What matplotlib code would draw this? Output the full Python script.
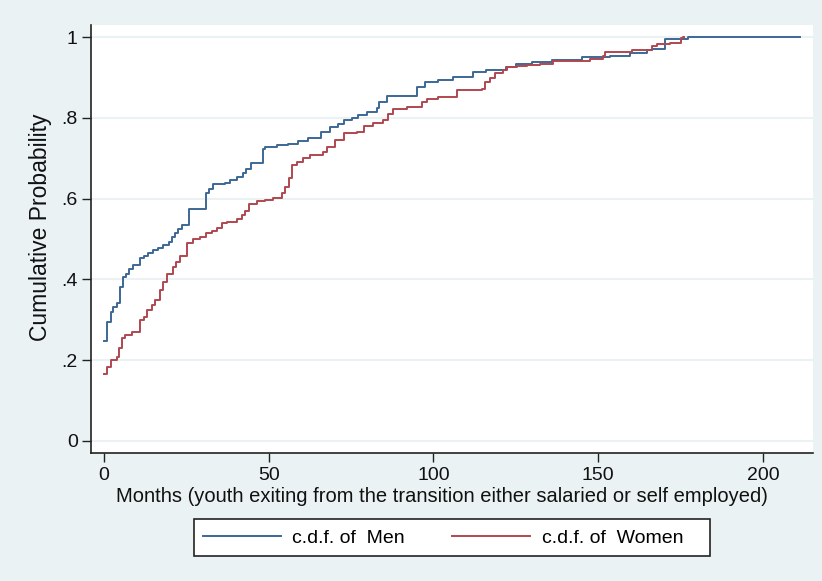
import numpy as np
import matplotlib
matplotlib.use("Agg")
import matplotlib.pyplot as plt
from matplotlib.patches import Rectangle

plt.rcParams['font.family'] = ['Liberation Sans', 'DejaVu Sans']

# cdf of exit months
men_months = [0, 1, 2, 2.8, 3.85, 4.9, 5.9, 6.7, 7.7, 8.9, 10.9, 12.1, 13.5, 15, 16.5,
              18, 19.7, 20.5, 21.5, 22.4, 23.6, 25.9, 31, 32, 33.2, 36.7, 38.3, 40.3,
              42.3, 43, 44.5, 48.4, 49, 52.4, 55.9, 59, 62, 66, 68.6, 71, 72.7, 75.2,
              77.2, 79.7, 82.8, 83.5, 85.8, 94.9, 97.4, 101.5, 106, 112, 116, 122, 125,
              130, 136, 145, 153.6, 159.6, 164.7, 166.3, 170.3, 177.4, 211.3]
men_cdf = [0.247, 0.295, 0.320, 0.332, 0.342, 0.380, 0.407, 0.413, 0.426, 0.436, 0.452,
           0.458, 0.466, 0.473, 0.478, 0.485, 0.493, 0.504, 0.516, 0.526, 0.535, 0.574,
           0.615, 0.623, 0.636, 0.640, 0.646, 0.653, 0.664, 0.673, 0.689, 0.722, 0.728,
           0.732, 0.735, 0.744, 0.750, 0.766, 0.777, 0.785, 0.795, 0.801, 0.807, 0.816,
           0.824, 0.840, 0.854, 0.878, 0.888, 0.893, 0.902, 0.915, 0.920, 0.927, 0.934,
           0.939, 0.944, 0.950, 0.954, 0.962, 0.968, 0.972, 0.996, 1.0, 1.0]

women_months = [0, 1, 2, 3.85, 4.5, 5.4, 6.4, 8.4, 10.9, 12, 13.2, 14.5, 15.5, 17, 18,
                19, 20.8, 21.9, 23.1, 25.1, 27.1, 29.1, 31, 32.7, 34.2, 35.7, 37.2,
                40.3, 41.8, 42.8, 44.1, 46.3, 48.9, 51.4, 53.9, 54.9, 56.3, 57, 58.5,
                60.5, 62.5, 66.6, 67.6, 70.1, 72.7, 76.7, 78.9, 81.8, 84.8, 86.3, 87.8,
                91.9, 96.4, 98, 101.5, 107.1, 114.7, 115.6, 117.2, 118.7, 121.2, 122.2,
                125.3, 128.3, 132.4, 136.4, 143.5, 147.5, 151.5, 152.1, 160.2, 166.3,
                167.8, 171.8, 175, 175.7, 176.2]
women_cdf = [0.165, 0.183, 0.199, 0.207, 0.229, 0.254, 0.262, 0.270, 0.299, 0.307, 0.324,
             0.336, 0.350, 0.373, 0.394, 0.413, 0.431, 0.444, 0.458, 0.491, 0.499, 0.504,
             0.514, 0.521, 0.528, 0.539, 0.543, 0.549, 0.560, 0.570, 0.586, 0.593, 0.597,
             0.601, 0.613, 0.630, 0.650, 0.683, 0.692, 0.700, 0.708, 0.716, 0.728, 0.745,
             0.762, 0.766, 0.779, 0.787, 0.795, 0.810, 0.821, 0.826, 0.840, 0.846, 0.853,
             0.869, 0.873, 0.888, 0.899, 0.911, 0.919, 0.927, 0.928, 0.931, 0.935, 0.940,
             0.942, 0.945, 0.954, 0.964, 0.968, 0.979, 0.983, 0.987, 0.997, 1.0, 1.0]

y_ticks = [0, 0.2, 0.4, 0.6, 0.8, 1]
y_labels = ['0', '.2', '.4', '.6', '.8', '1']
x_ticks = [0, 50, 100, 150, 200]

bg = '#EAF2F3'
fig = plt.figure(figsize=(8.22, 5.81), dpi=100, facecolor=bg)
ax = fig.add_axes([0.1107, 0.2203, 0.8783, 0.7367])
ax.set_facecolor('white')

ax.step(men_months, men_cdf, where='post', color='#3D6896', lw=1.4, label='c.d.f. of  Men')
ax.step(women_months, women_cdf, where='post', color='#B04850', lw=1.4, label='c.d.f. of  Women')

ax.set_xlim(-3.95, 215.2)
ax.set_ylim(-0.0305, 1.0305)
ax.set_yticks(y_ticks)
ax.set_yticklabels(y_labels)
ax.set_xticks(x_ticks)
ax.grid(axis='y', color=bg, lw=1.5)
ax.set_axisbelow(True)

for s in ['top', 'right']:
    ax.spines[s].set_visible(False)
for s in ['left', 'bottom']:
    ax.spines[s].set_color('#222222')
    ax.spines[s].set_linewidth(1.2)

ax.tick_params(axis='both', direction='out', length=6.5, width=1.0, color='#222222',
               labelsize=14, labelcolor='#111111')
ax.tick_params(axis='y', pad=3)
ax.tick_params(axis='x', pad=3.5)

fig.text(442 / 822, 1 - 497 / 581,
         'Months (youth exiting from the transition either salaried or self employed)',
         ha='center', va='center', fontsize=14.5, color='#111111')
fig.text(40 / 822, 1 - 227 / 581, 'Cumulative Probability', rotation=90,
         ha='center', va='center', fontsize=16.5, color='#111111')

# legend box drawn separately so the entries can sit left of the right edge
box = Rectangle((194 / 822, 1 - 556 / 581), 516 / 822, 37 / 581, transform=fig.transFigure,
                facecolor='white', edgecolor='#222222', lw=1.2)
fig.patches.append(box)
leg = fig.legend(loc='lower left', bbox_to_anchor=(194 / 822, 1 - 556 / 581, 498 / 822, 37 / 581),
                 mode='expand', ncol=2, fontsize=14, frameon=False,
                 handlelength=4.0, handletextpad=0.6, borderpad=0.45, borderaxespad=0)
for line in leg.get_lines():
    line.set_linewidth(1.4)

fig.savefig('out.png', dpi=100, facecolor=bg)
